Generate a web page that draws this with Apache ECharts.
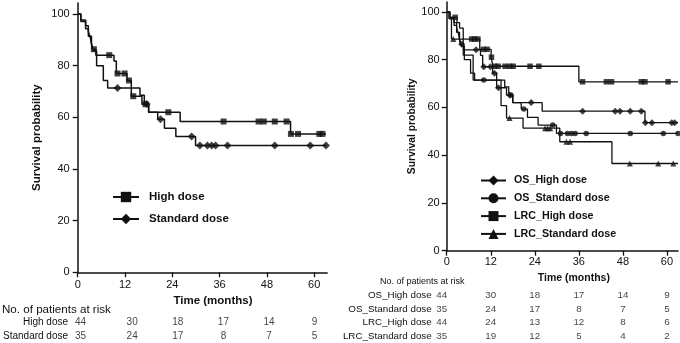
<!DOCTYPE html>
<html><head><meta charset="utf-8">
<script src="https://cdn.jsdelivr.net/npm/echarts@6/dist/echarts.min.js"></script>
<style>html,body{margin:0;padding:0;background:#fff}#c{width:680px;height:343px}</style>
</head><body><div id="c"></div>
<script>
// ---- tick labels ----
const monthTicks = [0, 12, 24, 36, 48, 60];
const survTicks = [0, 20, 40, 60, 80, 100];

// ---- OS, high dose: step points [month, %] and censor marks ----
const highSteps = [[0,100],[0.8,97.7],[2,95.5],[2.7,93.2],[3.2,90.9],[3.7,86.4],[4.6,84.1],[9.2,81.8],[9.8,77.0],[12.5,74.3],[13.6,68.2],[16.3,65.1],[18,62.0],[26,58.4],[54,53.6],[63,53.6]];
const highCensor = [[4.1,86.4],[8,84.1],[10.1,77.0],[11.9,77.0],[13,74.3],[14.1,68.2],[17.2,65.1],[23,62.0],[37,58.4],[45.9,58.4],[47.2,58.4],[50,58.4],[53,58.4],[54.1,53.6],[55.9,53.6],[61.3,53.6],[62.1,53.6]];

// ---- OS, standard dose ----
const stdSteps = [[0,100],[0.8,97.1],[2,94.3],[2.7,91.4],[3.5,88.6],[4,85.7],[4.8,80.0],[6.5,74.3],[7.6,71.4],[15.8,68.6],[16.9,65.2],[18,62.0],[20.3,59.3],[22,55.8],[24.9,52.6],[29.9,49.1],[63,49.1]];
const stdCensor = [[10.1,71.4],[17.5,65.2],[21,59.3],[28.9,52.6],[31,49.1],[32.9,49.1],[34,49.1],[35,49.1],[38,49.1],[50,49.1],[59,49.1],[63,49.1]];

// ---- LRC, high dose ----
const lrcHighSteps = [[0,100],[0.9,97.7],[2.8,95.5],[3.5,93.2],[4.5,88.6],[9,84.3],[12.1,81.0],[12.6,77.2],[36,70.7],[63,70.7]];
const lrcHighCensor = [[2.3,97.7],[6.8,88.6],[7.6,88.6],[8.5,88.6],[10,84.3],[11,84.3],[12.2,81.0],[13.1,77.2],[14,77.2],[15.9,77.2],[17.2,77.2],[18.1,77.2],[22.7,77.2],[25.1,77.2],[37,70.7],[43.5,70.7],[44.9,70.7],[53,70.7],[54,70.7],[60.3,70.7]];

// ---- LRC, standard dose ----
const lrcStdSteps = [[0,100],[0.6,97.1],[1.3,88.6],[4.5,81.9],[7.2,71.4],[14.8,60.7],[16.3,55.5],[20.8,51.3],[30.8,45.6],[45,36.5],[63,36.5]];
const lrcStdCensor = [[1.8,88.6],[17.1,55.5],[26.8,51.3],[27.5,51.3],[28.2,51.3],[32.6,45.6],[33.6,45.6],[49.9,36.5],[57.6,36.5],[61.7,36.5]];

// ---- numbers at risk ----
const leftRows = ['High dose', 'Standard dose'];
const leftRisk = [[44,30,18,17,14,9],[35,24,17,8,7,5]];
const rightRows = ['OS_High dose', 'OS_Standard dose', 'LRC_High dose', 'LRC_Standard dose'];
const rightRisk = [[44,30,18,17,14,9],[35,24,17,8,7,5],[44,24,13,12,8,6],[35,19,12,5,4,2]];

const FONT = "'Liberation Sans', Arial, sans-serif";
const INK = '#111';

function km(name, steps, censor, sym, size, gi, lw) {
  return [
    { name, type: 'line', step: 'end', xAxisIndex: gi, yAxisIndex: gi, data: steps,
      symbol: sym, showSymbol: false, lineStyle: { color: INK, width: lw },
      itemStyle: { color: INK }, silent: true, z: 3 },
    { name: name + ' (censored)', type: 'scatter', xAxisIndex: gi, yAxisIndex: gi, data: censor,
      symbol: sym, symbolSize: size, itemStyle: { color: INK }, silent: true, z: 4 }
  ];
}

function riskSeries(rows, risk, gi, fs, firstOffset) {
  const data = [];
  rows.forEach((r, ri) => {
    risk[ri].forEach((v, ti) => {
      const item = { value: [monthTicks[ti], r, v] };
      if (ti === 0) item.label = { offset: [firstOffset, 0] };
      data.push(item);
    });
  });
  return { type: 'scatter', xAxisIndex: gi, yAxisIndex: gi, data, symbolSize: 1,
    itemStyle: { color: 'transparent' }, silent: true,
    label: { show: true, position: 'inside', formatter: p => p.value[2],
      color: INK, fontSize: fs, fontFamily: FONT } };
}

function valAxis(gi, max, name, nameGap, fs, nfs, pad, margin, ticks, isY) {
  return {
    gridIndex: gi, type: 'value', min: 0, max, interval: isY ? 20 : 12,
    name, nameLocation: 'middle', nameGap,
    nameTextStyle: { fontFamily: FONT, fontWeight: 'bold', fontSize: nfs, color: INK, padding: pad },
    axisLine: { show: true, lineStyle: { color: INK, width: 1.5 } },
    axisTick: { show: true, length: 5, lineStyle: { color: INK, width: 1.3 }, customValues: ticks },
    axisLabel: { fontFamily: FONT, fontSize: fs, color: INK, margin, customValues: ticks },
    splitLine: { show: false }
  };
}

const chart = echarts.init(document.getElementById('c'), null, { renderer: 'canvas' });
chart.setOption({
  animation: false,
  backgroundColor: '#fff',
  grid: [
    { left: 77.7, top: 3, width: 249.5, height: 269.3 },
    { left: 446.7, top: 2, width: 231.3, height: 248.7 },
    { left: 77.7, top: 315, width: 249.5, height: 30 },
    { left: 446.7, top: 288.6, width: 231.3, height: 54.8 }
  ],
  xAxis: [
    valAxis(0, 63.3, 'Time (months)', 23, 11, 11.5, [0,0,0,21], 7, monthTicks, false),
    valAxis(1, 63, 'Time (months)', 18, 11, 10.5, [0,0,0,23], 6, monthTicks, false),
    { gridIndex: 2, type: 'value', min: 0, max: 63.3, show: false },
    { gridIndex: 3, type: 'value', min: 0, max: 63, show: false }
  ],
  yAxis: [
    valAxis(0, 104.3, 'Survival probability', 35, 11, 11.5, 0, 8, survTicks, true),
    valAxis(1, 104.1, 'Survival probability', 23.5, 11, 10.3, 0, 7, survTicks, true),
    { gridIndex: 2, type: 'category', data: leftRows, inverse: true,
      axisLine: { show: false }, axisTick: { show: false },
      axisLabel: { fontFamily: FONT, fontSize: 10, color: INK, margin: 18.5 } },
    { gridIndex: 3, type: 'category', data: rightRows, inverse: true,
      axisLine: { show: false }, axisTick: { show: false },
      axisLabel: { fontFamily: FONT, fontSize: 9.8, color: INK, margin: 15 } }
  ],
  legend: [
    { orient: 'vertical', left: 112, top: 190, padding: 0, itemWidth: 26, itemHeight: 13, itemGap: 8,
      selectedMode: false, data: ['High dose', 'Standard dose'],
      textStyle: { fontFamily: FONT, fontWeight: 'bold', fontSize: 11.5, color: INK, lineHeight: 14, padding: [0,0,0,5] } },
    { orient: 'vertical', left: 480, top: 174, padding: 0, itemWidth: 25, itemHeight: 12.5, itemGap: 4.8,
      selectedMode: false, data: ['OS_High dose', 'OS_Standard dose', 'LRC_High dose', 'LRC_Standard dose'],
      textStyle: { fontFamily: FONT, fontWeight: 'bold', fontSize: 10.7, color: INK, lineHeight: 13, padding: [0,0,0,3] } }
  ],
  graphic: [
    { type: 'text', left: 2, top: 303.5, style: { text: 'No. of patients at risk', fontFamily: FONT, fontSize: 11.6, fill: INK } },
    { type: 'text', left: 380, top: 277.5, style: { text: 'No. of patients at risk', fontFamily: FONT, fontSize: 9, fill: INK } }
  ],
  series: [
    ...km('High dose', highSteps, highCensor, 'rect', 6, 0, 1.5),
    ...km('Standard dose', stdSteps, stdCensor, 'diamond', 8, 0, 1.5),
    ...km('OS_High dose', highSteps, highCensor, 'diamond', 7, 1, 1.3),
    ...km('OS_Standard dose', stdSteps, stdCensor, 'circle', 5.5, 1, 1.3),
    ...km('LRC_High dose', lrcHighSteps, lrcHighCensor, 'rect', 5.5, 1, 1.3),
    ...km('LRC_Standard dose', lrcStdSteps, lrcStdCensor, 'triangle', 6, 1, 1.3),
    riskSeries(leftRows, leftRisk, 2, 10, -6),
    riskSeries(rightRows, rightRisk, 3, 9.8, -5)
  ]
});
</script>
</body></html>
